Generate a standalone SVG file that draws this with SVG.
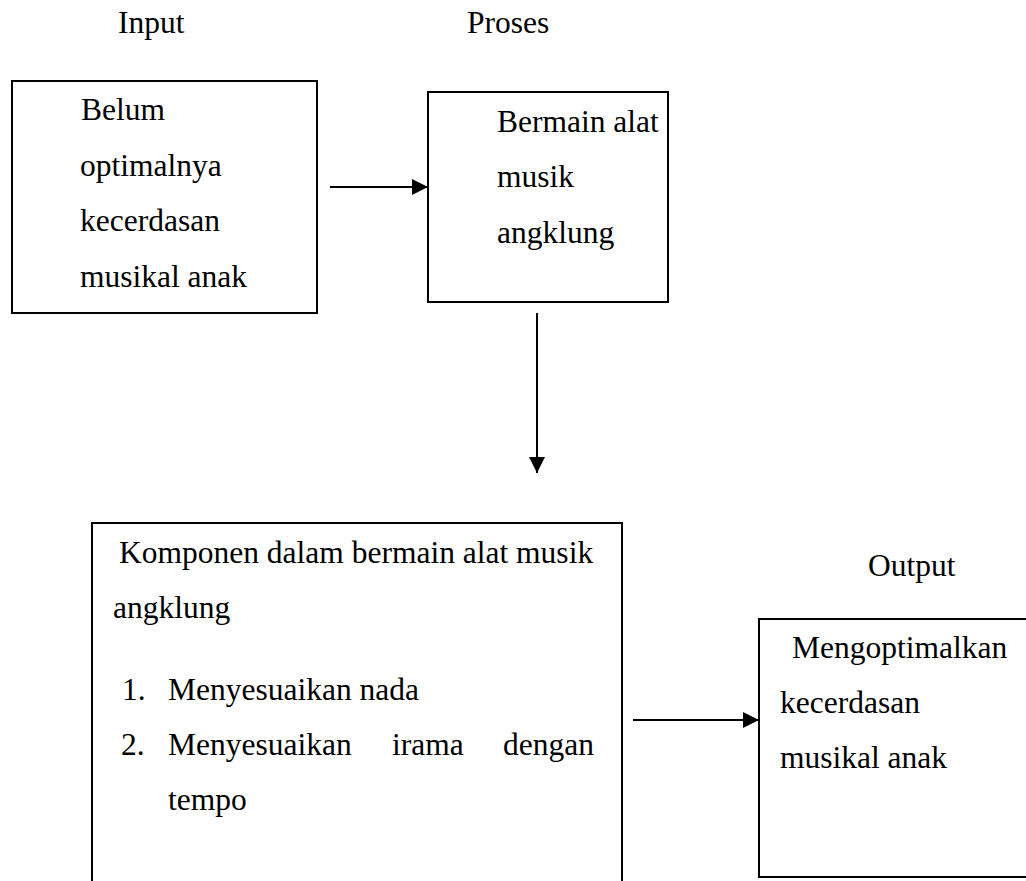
<svg xmlns="http://www.w3.org/2000/svg" width="1026" height="881" viewBox="0 0 1026 881">
<style>
text{font-family:"Liberation Serif","Times New Roman",serif;font-size:31.5px;fill:#000}
.box{fill:#fff;stroke:#000;stroke-width:2}
.conn{stroke:#000;stroke-width:2;fill:none}
</style>
<defs>
<marker id="ah" markerUnits="userSpaceOnUse" viewBox="0 0 16 16" refX="16" refY="8" markerWidth="16" markerHeight="16" orient="auto">
<path d="M0,0 L16,8 L0,16 Z" fill="#000"/>
</marker>
</defs>
<rect width="1026" height="881" fill="#fff"/>
<g id="labels">
<text x="118" y="33">Input</text>
<text x="467" y="33">Proses</text>
<text x="868" y="576">Output</text>
</g>
<g id="node-input">
<rect class="box" x="12" y="81" width="305" height="232"/>
<text x="81" y="120">Belum</text>
<text x="80" y="175.5">optimalnya</text>
<text x="80" y="231">kecerdasan</text>
<text x="80" y="286.5">musikal anak</text>
</g>
<g id="node-proses">
<rect class="box" x="428" y="92" width="240" height="210"/>
<text x="497" y="132">Bermain alat</text>
<text x="497" y="187">musik</text>
<text x="497" y="243">angklung</text>
</g>
<g id="node-komponen">
<rect class="box" x="92" y="523" width="530" height="370"/>
<text x="119" y="563">Komponen dalam bermain alat musik</text>
<text x="113" y="618">angklung</text>
<text x="122" y="700">1.</text>
<text x="168" y="700">Menyesuaikan nada</text>
<text x="121" y="755">2.</text>
<text x="168" y="755">Menyesuaikan</text>
<text x="392" y="755">irama</text>
<text x="503" y="755">dengan</text>
<text x="168" y="810">tempo</text>
</g>
<g id="node-output">
<rect class="box" x="759" y="619" width="280" height="258"/>
<text x="792" y="658">Mengoptimalkan</text>
<text x="780" y="713">kecerdasan</text>
<text x="780" y="768">musikal anak</text>
</g>
<g id="connectors">
<line class="conn" x1="330" y1="187" x2="428" y2="187" marker-end="url(#ah)"/>
<line class="conn" x1="537" y1="313" x2="537" y2="473" marker-end="url(#ah)"/>
<line class="conn" x1="633" y1="720" x2="759" y2="720" marker-end="url(#ah)"/>
</g>
</svg>
